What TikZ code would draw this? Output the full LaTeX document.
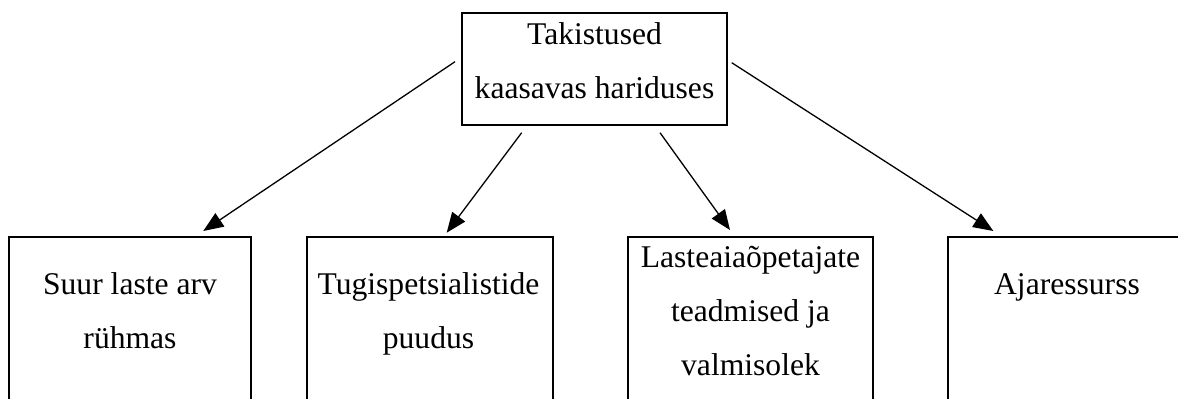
\documentclass[tikz,border=0pt]{standalone}
\usepackage{fontspec}
\setmainfont{Liberation Serif}
\usetikzlibrary{arrows.meta}
\tikzset{
	box/.style={draw, line width=1pt, inner sep=0pt, outer sep=0pt, anchor=north},
	lowbox/.style={box, minimum width=#1, minimum height=100pt},
	txt/.style={align=center, inner sep=0pt, anchor=north, font=\fontsize{15.8}{27.2}\selectfont},
	arr/.style={line width=0.65pt, -{Triangle[length=10pt,width=8pt]}}
}
\begin{document}
\begin{tikzpicture}[x=0.5pt, y=-0.5pt]
			\useasboundingbox (0,0) rectangle (1178,399);
			\clip (0,0) rectangle (1178,399);

			%%draw the top box
			\node[box, minimum width=132.5pt, minimum height=56.15pt] (top) at (594.5, 12.7){};
				\node[txt] (toptxt) at (594.5, 5.9){\strut Takistused\\\strut kaasavas hariduses};

			%%draw the boxes below
			\node[lowbox=120.7pt] (b1) at (130, 236.7){};
				\node[txt] (b1txt) at (130, 255.9){\strut Suur laste arv\\\strut rühmas};
			\node[lowbox=123pt] (b2) at (429.7, 236.7){};
				\node[txt] (b2txt) at (428.5, 255.9){\strut Tugispetsialistide\\\strut puudus};
			\node[lowbox=122.8pt] (b3) at (750.5, 236.7){};
				\node[txt] (b3txt) at (750.5, 228.6){\strut Lasteaiaõpetajate\\\strut teadmised ja\\\strut valmisolek};
			\node[lowbox=118.7pt] (b4) at (1067, 236.7){};
				\node[txt] (b4txt) at (1067, 255.9){\strut Ajaressurss};

			%%draw the arrows
			\draw[arr] ([shift={(-7, -7.15)}]top.west) to ([shift={(73.3, -5.7)}]b1.north);
			\draw[arr] ([shift={(-72.8, 7.7)}]top.south) to ([shift={(17, -4)}]b2.north);
			\draw[arr] ([shift={(65.5, 7.7)}]top.south) to ([shift={(-20.5, -6.7)}]b3.north);
			\draw[arr] ([shift={(4.7, -6.15)}]top.east) to ([shift={(-73.7, -5.7)}]b4.north);
\end{tikzpicture}
\end{document}
